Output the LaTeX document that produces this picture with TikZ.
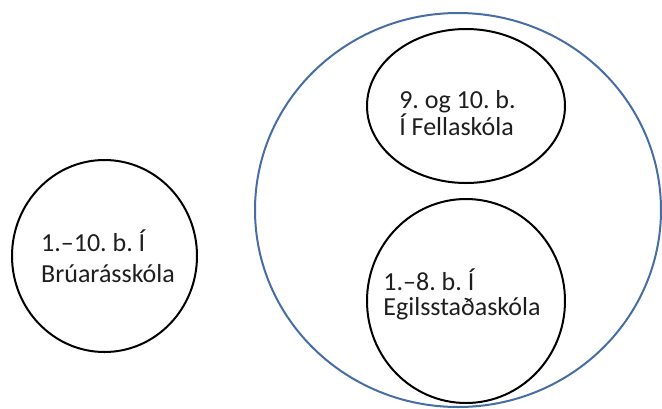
\documentclass[tikz,border=0pt]{standalone}
\usepackage{fontspec}
\setmainfont{Carlito}
\usepackage{tikz}
\usetikzlibrary{shapes.geometric}

\definecolor{setblue}{RGB}{70,110,165}
\definecolor{inktext}{RGB}{30,30,30}
\frenchspacing

\begin{document}
\begin{tikzpicture}[x=1pt,y=-1pt]

\tikzset{ring/.style={ellipse, draw=black, line width=2pt, inner sep=0pt},
         bigset/.style={ellipse, draw=setblue, line width=2pt, inner sep=0pt},
         schoolname/.style={align=left, inner sep=0pt, text=inktext,
                            font=\fontsize{26}{25}\selectfont}}

\useasboundingbox (0,0) rectangle (662,408);

\node[bigset, minimum width=406pt, minimum height=394pt] (fljot) at (458,210) {};

\node[ring, minimum width=185pt, minimum height=192pt] (bruar) at (104.5,256) {};
\node[ring, minimum width=198pt, minimum height=154pt] (fella) at (466,106) {};
\node[ring, minimum width=198pt, minimum height=204pt] (egils) at (466,301) {};

\node[schoolname, font=\fontsize{26}{31}\selectfont] (bruartext) at (108,256.5)
    {1.–10. b. Í\\Brúarásskóla};
\node[schoolname] (fellatext) at (457.5,113)
    {9. og 10. b.\\Í Fellaskóla};
\node[schoolname] (egilstext) at (462,294)
    {1.–8. b. Í\\Egilsstaðaskóla};

\end{tikzpicture}
\end{document}
